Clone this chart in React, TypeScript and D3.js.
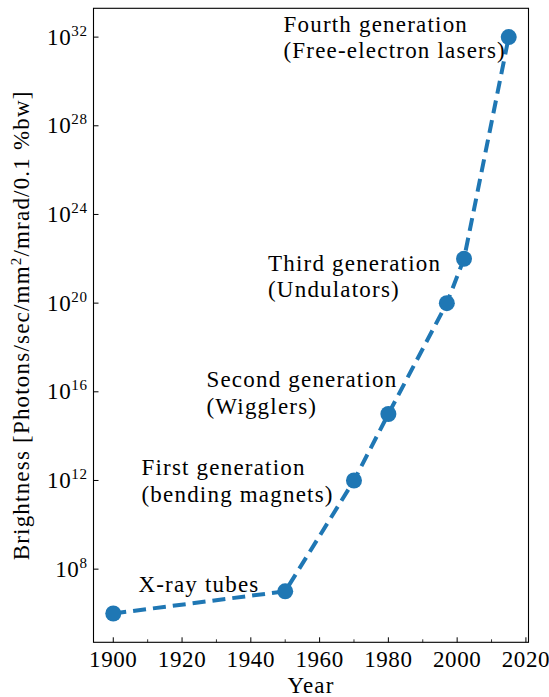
import React from "react";
import * as d3 from "d3";

const years = [1900, 1950, 1970, 1980, 1997, 2002, 2015];
const brightness = [1e6, 1e7, 1e12, 1e15, 1e20, 1e22, 1e32];

const labelLines = [
  ["X-ray tubes"],
  ["First generation", "(bending magnets)"],
  ["Second generation", "(Wigglers)"],
  ["Third generation", "(Undulators)"],
  ["Fourth generation", "(Free-electron lasers)"],
];
const labelYears = [1907.3, 1908.2, 1927.1, 1945, 1949.5];
const labelExps = [6.99, 12.23, 16.2, 21.47, 32.25];

const xMajorTicks = [1900, 1920, 1940, 1960, 1980, 2000, 2020];
const xMinorTicks = [1910, 1930, 1950, 1970, 1990, 2010];
const yTickExps = [8, 12, 16, 20, 24, 28, 32];

const W = 549;
const H = 697;
const FONT = "'Liberation Serif', 'DejaVu Serif', serif";
const COLOR = "#1f77b4";

export default function App() {
  const left = 93.5, right = 528.5, top = 8.3, bottom = 642.3;
  const x = d3.scaleLinear().domain([1894.25, 2020.75]).range([left, right]);
  const y = d3.scaleLog().domain([Math.pow(10, 4.7), Math.pow(10, 33.3)]).range([bottom, top]);
  const pts = years.map((yr, i) => [x(yr), y(brightness[i])] as [number, number]);
  const line = d3.line()(pts) as string;
  const fs = 23;
  const ls = 1.2;
  const lh = 26.3;
  return (
    <svg width={W} height={H} style={{ position: "absolute", left: 0, top: 0, background: "#fff" }} fontFamily={FONT}>
      <rect x={0} y={0} width={W} height={H} fill="#fff" />
      <path d={line} fill="none" stroke={COLOR} strokeWidth={4} strokeDasharray="13,7" />
      {pts.map((p, i) => (
        <circle key={i} cx={p[0]} cy={p[1]} r={8} fill={COLOR} />
      ))}
      {labelLines.map((lines, i) => (
        <text key={i} x={x(labelYears[i])} y={y(Math.pow(10, labelExps[i]))} fontSize={fs} letterSpacing={ls} fill="#000">
          {lines.map((l, j) => (
            <tspan key={j} x={x(labelYears[i])} dy={j === 0 ? 0 : lh}>{l}</tspan>
          ))}
        </text>
      ))}
      <rect x={left} y={top} width={right - left} height={bottom - top} fill="none" stroke="#000" strokeWidth={1.1} />
      {xMajorTicks.map((t) => (
        <g key={t}>
          <line x1={x(t)} x2={x(t)} y1={bottom} y2={bottom - 5} stroke="#000" strokeWidth={1} />
          <text x={x(t)} y={bottom + 25} fontSize={fs} letterSpacing={0.6} textAnchor="middle">{t}</text>
        </g>
      ))}
      {xMinorTicks.map((t) => (
        <line key={t} x1={x(t)} x2={x(t)} y1={bottom} y2={bottom - 3} stroke="#000" strokeWidth={0.8} />
      ))}
      {yTickExps.map((e) => {
        const yy = y(Math.pow(10, e));
        return (
          <g key={e}>
            <line x1={left} x2={left + 5} y1={yy} y2={yy} stroke="#000" strokeWidth={1} />
            <text x={left - 6} y={yy + 7.5} fontSize={fs} letterSpacing={0.6} textAnchor="end">
              10<tspan fontSize={15} dy={-9}>{e}</tspan>
            </text>
          </g>
        );
      })}
      <text x={(left + right) / 2} y={693} fontSize={fs} letterSpacing={ls} textAnchor="middle">Year</text>
      <text transform={`translate(29,${(top + bottom) / 2}) rotate(-90)`} fontSize={fs} letterSpacing={ls} textAnchor="middle">
        Brightness [Photons/sec/mm<tspan fontSize={15} dy={-8}>2</tspan><tspan dy={8}>/mrad/0.1 %bw]</tspan>
      </text>
    </svg>
  );
}
